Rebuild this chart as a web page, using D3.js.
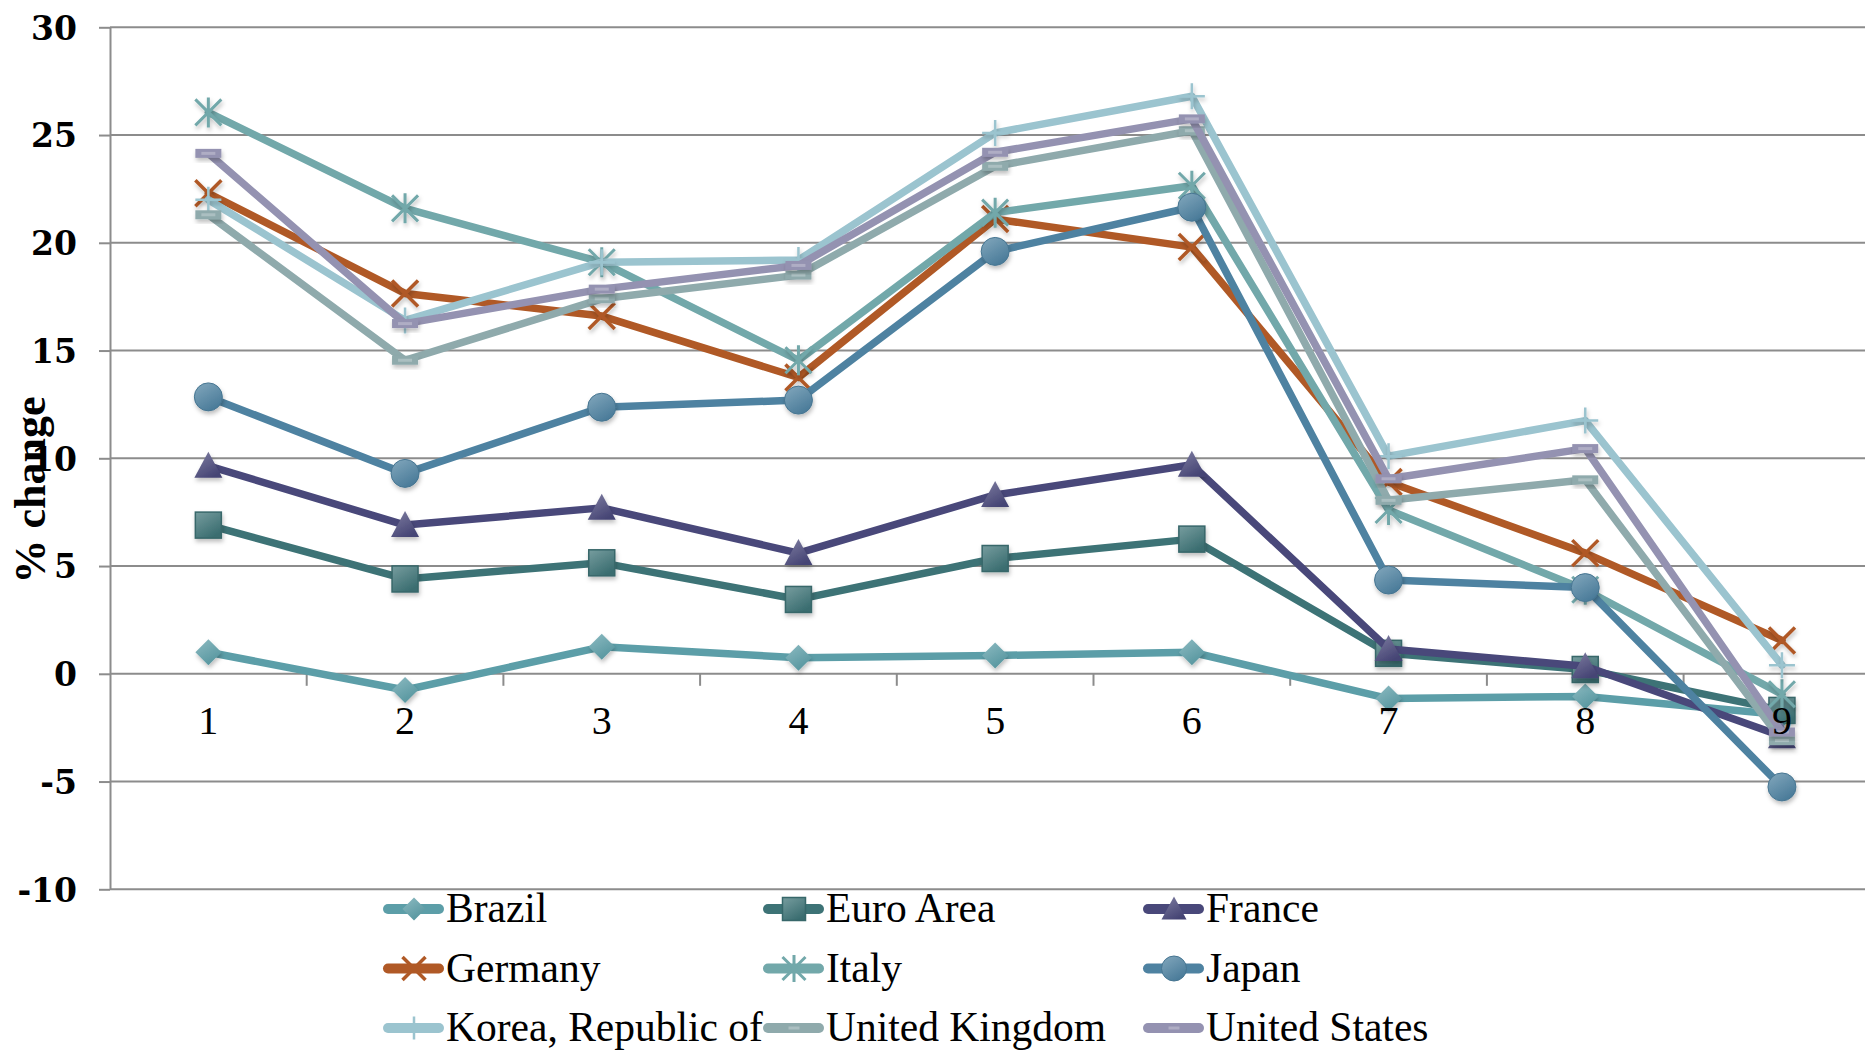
<!DOCTYPE html>
<html>
<head>
<meta charset="utf-8">
<script src="https://cdn.jsdelivr.net/npm/d3@7"></script>
<style>
  html, body { margin: 0; padding: 0; background: #ffffff; }
  svg { display: block; }
</style>
</head>
<body>
<svg id="chart" width="1865" height="1050"></svg>
<script>
// Period labels along the x axis
const categories = ["1", "2", "3", "4", "5", "6", "7", "8", "9"];

// Series, in drawing / legend order
const seriesNames = ["Brazil", "Euro Area", "France", "Germany", "Italy", "Japan",
                     "Korea, Republic of", "United Kingdom", "United States"];

// % change per period
const brazil   = [1.0, -0.75, 1.25, 0.75, 0.85, 1.0, -1.15, -1.05, -1.9];
const euroArea = [6.9, 4.4, 5.15, 3.45, 5.35, 6.25, 0.95, 0.2, -1.7];
const france   = [9.65, 6.9, 7.7, 5.6, 8.3, 9.7, 1.15, 0.35, -2.9];
const germany  = [22.3, 17.65, 16.6, 13.75, 21.1, 19.8, 8.9, 5.6, 1.55];
const italy    = [26.05, 21.6, 19.1, 14.55, 21.4, 22.65, 7.6, 3.9, -0.95];
const japan    = [12.85, 9.3, 12.37, 12.7, 19.6, 21.65, 4.35, 4.0, -5.25];
const korea    = [22.0, 16.4, 19.1, 19.2, 25.1, 26.8, 10.1, 11.75, 0.4];
const uk       = [21.3, 14.55, 17.4, 18.5, 23.55, 25.2, 8.05, 9.0, -3.1];
const us       = [24.15, 16.25, 17.85, 18.95, 24.2, 25.75, 9.05, 10.45, -2.7];

// Y axis tick values
const yTicks = [-10, -5, 0, 5, 10, 15, 20, 25, 30];

const seriesValues = [brazil, euroArea, france, germany, italy, japan, korea, uk, us];
const seriesColors = ["#5c9ea8", "#3d7376", "#49487a", "#b05926", "#72a8aa",
                      "#4e82a1", "#9bc4cf", "#8faaac", "#9492b1"];
const seriesMarkers = ["diamond", "square", "triangle", "x", "asterisk",
                       "circle", "plus", "dash", "dash"];

const series = seriesNames.map((name, i) => ({
  name, values: seriesValues[i], color: seriesColors[i], marker: seriesMarkers[i], idx: i
}));

const svg = d3.select("#chart");
const left = 110, band = 196.7;
const x = d3.scaleBand().domain(categories).range([left, left + band * categories.length]).padding(0);
const y = d3.scaleLinear().domain([-10, 30]).range([889.3, 27.3]);
const right = left + band * categories.length;
const cx = c => x(c) + x.bandwidth() / 2;

const defs = svg.append("defs");
const shadow = defs.append("filter").attr("id", "mshadow")
  .attr("x", "-50%").attr("y", "-50%").attr("width", "200%").attr("height", "200%");
shadow.append("feDropShadow").attr("dx", 1).attr("dy", 3).attr("stdDeviation", 2)
  .attr("flood-color", "#000").attr("flood-opacity", 0.25);

series.forEach(s => {
  const g = defs.append("linearGradient").attr("id", "grad" + s.idx)
    .attr("x1", 0).attr("y1", 0).attr("x2", 0.6).attr("y2", 1);
  g.append("stop").attr("offset", "0%").attr("stop-color", d3.interpolateRgb(s.color, "#ffffff")(0.3));
  g.append("stop").attr("offset", "100%").attr("stop-color", d3.color(s.color).darker(0.15));
});

const gridColor = "#8c8c8c";

// Horizontal gridlines
svg.append("g").selectAll("line").data(yTicks).join("line")
  .attr("x1", left).attr("x2", right)
  .attr("y1", d => y(d)).attr("y2", d => y(d))
  .attr("stroke", gridColor).attr("stroke-width", 2);

// Y axis
const yAxis = svg.append("g").attr("transform", `translate(${left},0)`)
  .call(d3.axisLeft(y).tickValues(yTicks).tickSize(11).tickSizeOuter(0).tickPadding(22).tickFormat(d => d));
yAxis.select(".domain").attr("stroke", gridColor).attr("stroke-width", 2);
yAxis.selectAll(".tick line").attr("stroke", gridColor).attr("stroke-width", 2);
yAxis.selectAll("text")
  .attr("font-family", "'DejaVu Serif', serif").attr("font-weight", "bold")
  .attr("font-size", 33).attr("fill", "#000").attr("dy", "0.36em");

// Category tick marks below the zero line
svg.append("g").selectAll("line").data(d3.range(1, categories.length)).join("line")
  .attr("x1", d => left + d * band).attr("x2", d => left + d * band)
  .attr("y1", y(0)).attr("y2", y(0) + 12)
  .attr("stroke", gridColor).attr("stroke-width", 2);

// Axis title
svg.append("text")
  .attr("transform", `translate(45,${490}) rotate(-90)`)
  .attr("text-anchor", "middle")
  .attr("font-family", "'Liberation Serif', serif").attr("font-weight", "bold")
  .attr("font-size", 44).attr("fill", "#000")
  .text("% change");

// Marker shapes
function markerShape(g, type, color, idx, s) {
  const h = s / 2;
  const fill = `url(#grad${idx})`;
  if (type === "diamond") {
    g.append("path").attr("d", `M0,${-h}L${h},0L0,${h}L${-h},0Z`).attr("fill", fill);
  } else if (type === "square") {
    g.append("rect").attr("x", -h).attr("y", -h).attr("width", s).attr("height", s)
      .attr("fill", fill).attr("stroke", d3.color(color).darker(0.3)).attr("stroke-width", 1.5);
  } else if (type === "triangle") {
    g.append("path").attr("d", `M0,${-h - 1}L${h + 1},${h - 1}L${-h - 1},${h - 1}Z`).attr("fill", fill);
  } else if (type === "circle") {
    g.append("circle").attr("r", h + 1).attr("fill", fill)
      .attr("stroke", d3.color(color).darker(0.3)).attr("stroke-width", 1);
  } else if (type === "x") {
    g.append("path").attr("d", `M${-h},${-h}L${h},${h}M${h},${-h}L${-h},${h}`)
      .attr("stroke", color).attr("stroke-width", 3.5).attr("fill", "none");
  } else if (type === "asterisk") {
    g.append("path").attr("d", `M${-h},${-h}L${h},${h}M${h},${-h}L${-h},${h}M0,${-h - 2}L0,${h + 2}`)
      .attr("stroke", color).attr("stroke-width", 3).attr("fill", "none");
  } else if (type === "plus") {
    g.append("path").attr("d", `M${-h},0L${h},0M0,${-h}L0,${h}`)
      .attr("stroke", color).attr("stroke-width", 2.5).attr("fill", "none");
  } else if (type === "dash") {
    g.append("rect").attr("x", -h).attr("y", -4.5).attr("width", s).attr("height", 9)
      .attr("fill", color);
    g.append("rect").attr("x", -h + 6).attr("y", -1.5).attr("width", s - 12).attr("height", 3)
      .attr("fill", "#ffffff").attr("opacity", 0.25);
  }
}

// Series lines and markers
const line = d3.line().x(d => cx(d.c)).y(d => y(d.v));
series.forEach(s => {
  const pts = s.values.map((v, i) => ({ c: categories[i], v }));
  const g = svg.append("g");
  g.append("path").attr("d", line(pts)).attr("fill", "none")
    .attr("stroke", s.color).attr("stroke-width", 7.5)
    .attr("stroke-linejoin", "round").attr("stroke-linecap", "round");
  pts.forEach(p => {
    const m = g.append("g").attr("transform", `translate(${cx(p.c)},${y(p.v)})`)
      .attr("filter", "url(#mshadow)");
    markerShape(m, s.marker, s.color, s.idx, 26);
  });
});

// X axis labels
const xAxis = svg.append("g").attr("transform", `translate(0,${y(0)})`)
  .call(d3.axisBottom(x).tickSize(0).tickPadding(32));
xAxis.select(".domain").remove();
xAxis.selectAll("text")
  .attr("font-family", "'Liberation Serif', serif").attr("font-size", 40).attr("fill", "#000");

// Legend
const legend = svg.append("g");
const colX = [384, 764, 1144], rowY = [909, 968.5, 1028];
series.forEach((s, i) => {
  const gx = colX[i % 3], gy = rowY[Math.floor(i / 3)];
  const item = legend.append("g").attr("transform", `translate(${gx},${gy})`);
  item.append("line").attr("x1", 4).attr("x2", 55).attr("y1", 0).attr("y2", 0)
    .attr("stroke", s.color).attr("stroke-width", 10).attr("stroke-linecap", "round");
  const m = item.append("g").attr("transform", "translate(30,0)");
  markerShape(m, s.marker, s.color, s.idx, 23);
  item.append("text").attr("x", 62).attr("y", 13)
    .attr("font-family", "'Liberation Serif', serif").attr("font-size", 41.5).attr("fill", "#000")
    .text(s.name);
});
</script>
</body>
</html>
